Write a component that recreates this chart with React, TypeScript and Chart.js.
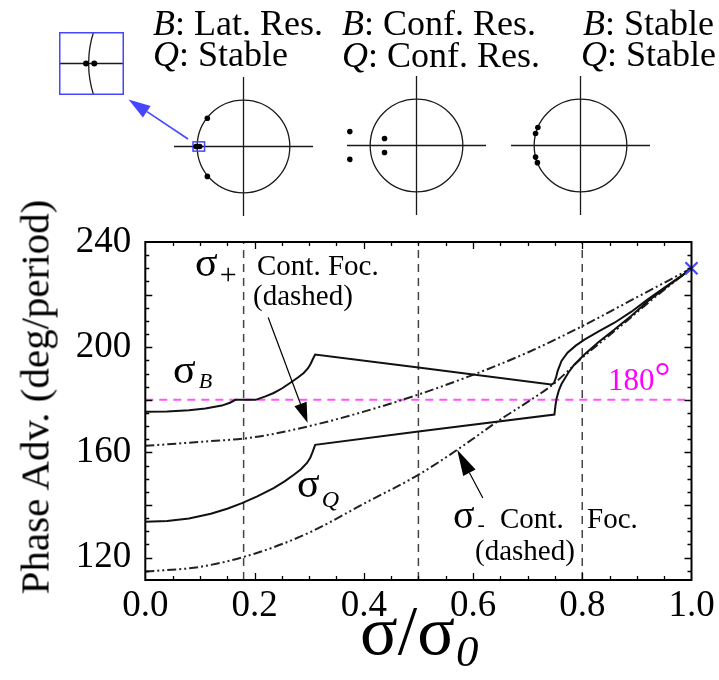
import React, { useEffect, useRef } from 'react';
import { Chart, registerables } from 'chart.js';
Chart.register(...registerables);

// ---------------- data ----------------
// normalized beam current sigma/sigma0 (x) and phase advance in deg/period (y)
const sigmaB_x = [0, 0.04, 0.08, 0.11, 0.14, 0.155, 0.165, 0.202, 0.22, 0.235, 0.25, 0.265, 0.28, 0.29, 0.298, 0.303, 0.307, 0.311, 0.5, 0.743, 0.748, 0.752, 0.755, 0.762, 0.773, 0.788, 0.804, 0.83, 0.859, 0.89, 0.92, 0.963, 1.0];
const sigmaB_y = [175.5, 175.6, 176.0, 176.7, 177.8, 178.9, 180.0, 180.0, 181.3, 182.6, 184.3, 186.4, 188.6, 190.2, 192.0, 193.8, 195.6, 197.2, 192.3, 185.8, 186.3, 188.5, 191.0, 194.8, 197.9, 200.6, 202.9, 206.0, 209.3, 213.5, 218.2, 224.5, 229.8];

const sigmaQ_x = [0, 0.04, 0.08, 0.12, 0.15, 0.177, 0.205, 0.235, 0.255, 0.272, 0.285, 0.296, 0.302, 0.306, 0.311, 0.5, 0.749, 0.751, 0.753, 0.757, 0.762, 0.767, 0.775, 0.785, 0.804, 0.83, 0.859, 0.89, 0.92, 0.963, 1.0];
const sigmaQ_y = [133.6, 133.9, 134.9, 136.7, 138.6, 140.7, 143.3, 146.4, 149.0, 151.5, 153.6, 156.0, 158.0, 160.0, 162.9, 168.0, 174.4, 178.0, 180.5, 183.5, 186.0, 187.7, 190.5, 193.3, 197.2, 202.0, 206.7, 212.0, 217.5, 224.2, 229.8];

const sigmaPlus_x = [0, 0.1, 0.2, 0.3, 0.4, 0.5, 0.6, 0.7, 0.8, 0.9, 1.0];
const sigmaPlus_y = [162.5, 164.0, 165.8, 170.0, 175.5, 182.0, 189.5, 198.0, 208.0, 219.0, 230.0];

const sigmaMinus_x = [0, 0.1, 0.2, 0.3, 0.4, 0.5, 0.571, 0.65, 0.706, 0.746, 0.8, 0.87, 0.93, 1.0];
const sigmaMinus_y = [114.7, 116.5, 121.5, 129.5, 140.5, 151.5, 161.0, 172.5, 180.0, 185.8, 196.0, 208.0, 218.5, 230.0];

const markerLinesX = [0.18, 0.5, 0.8];
const halfTurnY = 180;
const endPointX = [1.0];
const endPointY = [230];

const xTickValues = [0, 0.2, 0.4, 0.6, 0.8, 1.0];
const xTickLabels = ['0.0', '0.2', '0.4', '0.6', '0.8', '1.0'];
const yTickValues = [120, 160, 200, 240];
const yTickLabels = ['120', '160', '200', '240'];
const X_MIN = 0, X_MAX = 1, Y_MIN = 111.5, Y_MAX = 240;

// eigenvalues on the complex plane (Re, Im) for the three insets
const latResRe = [-0.78, -0.78, -1.025, -0.945];
const latResIm = [0.61, -0.645, 0, 0];
const confResRe = [-1.44, -1.44, -0.69, -0.69];
const confResIm = [0.3, -0.3, 0.15, -0.15];
const stableRe = [-0.92, -0.97, -0.97, -0.93];
const stableIm = [0.39, 0.26, -0.25, -0.37];

// annotation arrows (data coordinates: tail -> tip)
const arrowPlus = { x0: 0.225, y0: 211.3, x1: 0.297, y1: 171.3 };
const arrowMinus = { x0: 0.618, y0: 142.7, x1: 0.571, y1: 161.0 };

const zip = (xs: number[], ys: number[]) => xs.map((x, i) => ({ x, y: ys[i] }));

const SERIF = '"Liberation Serif", "Times New Roman", serif';
const BLUE = '#4646ff';
const MAGENTA = '#ff00ff';

// ---------------- helpers ----------------
function drawArrow(ctx: CanvasRenderingContext2D, x0: number, y0: number, x1: number, y1: number, hl: number, hw: number, color: string, lw: number) {
  const dx = x1 - x0, dy = y1 - y0;
  const len = Math.hypot(dx, dy);
  const ux = dx / len, uy = dy / len;
  const bx = x1 - ux * hl, by = y1 - uy * hl;
  ctx.save();
  ctx.strokeStyle = color;
  ctx.fillStyle = color;
  ctx.lineWidth = lw;
  ctx.setLineDash([]);
  ctx.beginPath();
  ctx.moveTo(x0, y0);
  ctx.lineTo(bx, by);
  ctx.stroke();
  ctx.beginPath();
  ctx.moveTo(x1, y1);
  ctx.lineTo(bx - uy * hw, by + ux * hw);
  ctx.lineTo(bx + uy * hw, by - ux * hw);
  ctx.closePath();
  ctx.fill();
  ctx.restore();
}

const framePlugin = {
  id: 'frameTicks',
  afterDatasetsDraw(chart: any) {
    const { ctx, chartArea: a, scales } = chart;
    const xs = scales.x, ys = scales.y;
    ctx.save();
    ctx.strokeStyle = '#000';
    ctx.lineWidth = 2;
    ctx.setLineDash([]);
    ctx.strokeRect(a.left, a.top, a.right - a.left, a.bottom - a.top);
    ctx.lineWidth = 1.3;
    ctx.beginPath();
    for (let i = 1; i < 20; i++) {
      const v = i * 0.05;
      const px = Math.round(xs.getPixelForValue(v)) + 0.5;
      const l = i % 4 === 0 ? 7 : 4;
      ctx.moveTo(px, a.bottom);
      ctx.lineTo(px, a.bottom - l);
      ctx.moveTo(px, a.top);
      ctx.lineTo(px, a.top + l);
    }
    for (let v = 115; v < Y_MAX; v += 5) {
      const py = Math.round(ys.getPixelForValue(v)) + 0.5;
      const l = v % 20 === 0 ? 7 : 4;
      ctx.moveTo(a.left, py);
      ctx.lineTo(a.left + l, py);
      ctx.moveTo(a.right, py);
      ctx.lineTo(a.right - l, py);
    }
    ctx.stroke();
    ctx.restore();
    const P = (p: any) => [xs.getPixelForValue(p.x0), ys.getPixelForValue(p.y0), xs.getPixelForValue(p.x1), ys.getPixelForValue(p.y1)];
    const a1 = P(arrowPlus);
    drawArrow(ctx, a1[0], a1[1], a1[2], a1[3], 20, 6.5, '#000', 1.2);
    const a2 = P(arrowMinus);
    drawArrow(ctx, a2[0], a2[1], a2[2], a2[3], 26, 7, '#000', 1.2);
  },
};

const circlePlugin = {
  id: 'unitCircle',
  beforeDatasetsDraw(chart: any, _args: any, opts: any) {
    const { ctx, chartArea: a, scales } = chart;
    const xs = scales.x, ys = scales.y;
    const cx = xs.getPixelForValue(0), cy = ys.getPixelForValue(0);
    const r = xs.getPixelForValue(1) - cx;
    ctx.save();
    ctx.beginPath();
    ctx.rect(a.left, a.top, a.right - a.left, a.bottom - a.top);
    ctx.clip();
    ctx.strokeStyle = '#1a1a1a';
    ctx.lineWidth = 1.3;
    ctx.beginPath();
    ctx.arc(cx, cy, r, 0, Math.PI * 2);
    ctx.stroke();
    ctx.beginPath();
    ctx.moveTo(a.left, cy);
    ctx.lineTo(a.right, cy);
    if (cx >= a.left && cx <= a.right) {
      ctx.moveTo(cx, a.top);
      ctx.lineTo(cx, a.bottom);
    }
    ctx.stroke();
    if (opts && opts.box) {
      const b = opts.box;
      ctx.strokeStyle = BLUE;
      ctx.lineWidth = 1.5;
      const x0 = xs.getPixelForValue(b.x0), x1 = xs.getPixelForValue(b.x1);
      const y0 = ys.getPixelForValue(b.y0), y1 = ys.getPixelForValue(b.y1);
      ctx.strokeRect(x0, y0, x1 - x0, y1 - y0);
    }
    if (opts && opts.frame) {
      ctx.strokeStyle = BLUE;
      ctx.lineWidth = 1.5;
      ctx.strokeRect(a.left + 0.75, a.top + 0.75, a.right - a.left - 1.5, a.bottom - a.top - 1.5);
    }
    ctx.restore();
  },
};

// ---------------- components ----------------
function MainChart() {
  const ref = useRef<HTMLCanvasElement>(null);
  useEffect(() => {
    const solid = (data: any) => ({ data, borderColor: '#111', borderWidth: 2, pointRadius: 0, tension: 0, fill: false });
    const dashDot = (data: any) => ({ data, borderColor: '#222', borderWidth: 2, pointRadius: 0, tension: 0.35, cubicInterpolationMode: 'monotone', borderDash: [9, 3, 2, 3, 2, 3], fill: false });
    const datasets: any[] = [
      {
        data: zip(endPointX, endPointY), showLine: false, pointStyle: 'crossRot', pointRadius: 8.5,
        pointBorderColor: BLUE, pointBorderWidth: 2.2, borderColor: BLUE, clip: false,
      },
      solid(zip(sigmaB_x, sigmaB_y)),
      solid(zip(sigmaQ_x, sigmaQ_y)),
      dashDot(zip(sigmaPlus_x, sigmaPlus_y)),
      dashDot(zip(sigmaMinus_x, sigmaMinus_y)),
      {
        data: [{ x: X_MIN, y: halfTurnY }, { x: X_MAX, y: halfTurnY }], borderColor: '#ff55ff', borderWidth: 2,
        borderDash: [8, 6], pointRadius: 0,
      },
      ...markerLinesX.map((mx) => ({
        data: [{ x: mx, y: Y_MIN }, { x: mx, y: Y_MAX }], borderColor: '#444', borderWidth: 1.5,
        borderDash: [8, 6], pointRadius: 0,
      })),
    ];
    const tickFont = { family: SERIF, size: 37 };
    const chart = new Chart(ref.current as HTMLCanvasElement, {
      type: 'line',
      data: { datasets },
      options: {
        animation: false,
        responsive: false,
        maintainAspectRatio: false,
        layout: { padding: { top: 42, right: 27.5, left: 0, bottom: 0 } },
        plugins: { legend: { display: false }, tooltip: { enabled: false } },
        scales: {
          x: {
            type: 'linear', min: X_MIN, max: X_MAX,
            afterBuildTicks: (s: any) => { s.ticks = xTickValues.map((v) => ({ value: v })); },
            afterFit: (s: any) => { s.height = 100; },
            ticks: { callback: (_v: any, i: number) => xTickLabels[i], font: tickFont, color: '#000', padding: 4, maxRotation: 0, minRotation: 0, autoSkip: false },
            grid: { display: false, drawTicks: false },
            border: { display: false },
          },
          y: {
            type: 'linear', min: Y_MIN, max: Y_MAX,
            afterBuildTicks: (s: any) => { s.ticks = yTickValues.map((v) => ({ value: v })); },
            afterFit: (s: any) => { s.width = 145.3; },
            ticks: { callback: (_v: any, i: number) => yTickLabels[i], font: tickFont, color: '#000', padding: 14, autoSkip: false },
            grid: { display: false, drawTicks: false },
            border: { display: false },
          },
        },
      } as any,
      plugins: [framePlugin],
    });
    return () => chart.destroy();
  }, []);
  return <canvas ref={ref} width={719} height={480} style={{ position: 'absolute', left: 0, top: 200 }} />;
}

function CircleInset(props: { left: number; top: number; w: number; h: number; re: number[]; im: number[]; xMin: number; xMax: number; yMin: number; yMax: number; box?: any; frame?: boolean; dot?: number }) {
  const ref = useRef<HTMLCanvasElement>(null);
  useEffect(() => {
    const chart = new Chart(ref.current as HTMLCanvasElement, {
      type: 'scatter',
      data: {
        datasets: [{ data: zip(props.re, props.im), pointRadius: props.dot || 2.8, pointBackgroundColor: '#000', pointBorderWidth: 0, showLine: false }],
      },
      options: {
        animation: false,
        responsive: false,
        maintainAspectRatio: false,
        layout: { padding: 0 },
        plugins: { legend: { display: false }, tooltip: { enabled: false }, unitCircle: { box: props.box, frame: props.frame } },
        scales: {
          x: { type: 'linear', display: false, min: props.xMin, max: props.xMax },
          y: { type: 'linear', display: false, min: props.yMin, max: props.yMax },
        },
      } as any,
      plugins: [circlePlugin],
    });
    return () => chart.destroy();
  }, []);
  return <canvas ref={ref} width={props.w} height={props.h} style={{ position: 'absolute', left: props.left, top: props.top }} />;
}

function T(props: { x: number; base: number; size: number; color?: string; children: any; italic?: boolean }) {
  return (
    <div
      style={{
        position: 'absolute', left: props.x, top: props.base - 0.8375 * props.size, fontSize: props.size, lineHeight: 1,
        fontFamily: SERIF, color: props.color || '#000', whiteSpace: 'nowrap', fontStyle: props.italic ? 'italic' : 'normal',
      }}
    >
      {props.children}
    </div>
  );
}

function S(props: { size: number; dy: number; dx?: number; italic?: boolean; children: any }) {
  return (
    <span style={{ fontSize: props.size, lineHeight: 0, position: 'relative', top: props.dy, marginLeft: props.dx || 0, fontStyle: props.italic ? 'italic' : 'normal' }}>
      {props.children}
    </span>
  );
}

export default function App() {
  return (
    <div style={{ position: 'absolute', left: 0, top: 0, width: 719, height: 680, overflow: 'hidden', background: '#fff', fontFamily: SERIF }}>
      {/* inset phase-space circles */}
      <CircleInset left={169.8} top={73.2} w={147} h={147} re={latResRe} im={latResIm} xMin={-1.5} xMax={1.5} yMin={-1.5} yMax={1.5} box={{ x0: -1.09, x1: -0.84, y0: 0.1, y1: -0.1 }} />
      <CircleInset left={343.2} top={71.5} w={147} h={147} re={confResRe} im={confResIm} xMin={-1.5} xMax={1.5} yMin={-1.5} yMax={1.5} />
      <CircleInset left={507.2} top={71.5} w={147} h={147} re={stableRe} im={stableIm} xMin={-1.5} xMax={1.5} yMin={-1.5} yMax={1.5} />
      <CircleInset left={55} top={28} w={73} h={71} re={latResRe} im={latResIm} xMin={-1.289} xMax={-0.655} yMin={-0.309} yMax={0.309} frame dot={3} />
      <svg width={719} height={240} style={{ position: 'absolute', left: 0, top: 0 }}>
        <line x1={188} y1={139} x2={147} y2={111.7} stroke={BLUE} strokeWidth={1.6} />
        <polygon points="128.5,99.5 150.7,105.9 142.9,117.5" fill={BLUE} />
      </svg>

      <T x={153} base={35} size={36}><i>B</i>: Lat. Res.</T>
      <T x={153} base={66} size={36}><i>Q</i>: Stable</T>
      <T x={342} base={35} size={36}><i>B</i>: Conf. Res.</T>
      <T x={342} base={67} size={36}><i>Q</i>: Conf. Res.</T>
      <T x={583} base={35} size={36}><i>B</i>: Stable</T>
      <T x={581} base={66} size={36}><i>Q</i>: Stable</T>

      <MainChart />

      {/* axis titles */}
      <div
        style={{
          position: 'absolute', left: 35, top: 397, transform: 'translate(-50%, -50%) rotate(-90deg)', fontSize: 41,
          lineHeight: 1, fontFamily: SERIF, whiteSpace: 'nowrap', color: '#000',
        }}
      >
        Phase Adv. (deg/period)
      </div>
      <T x={360} base={655} size={70}>σ/σ<S size={45} dy={12} dx={1} italic>0</S></T>

      {/* annotations */}
      <T x={195} base={276} size={42}>σ<S size={30} dy={8} dx={2}>+</S></T>
      <T x={257} base={275} size={29}>Cont. Foc.</T>
      <T x={253} base={305} size={29}>(dashed)</T>
      <T x={173} base={383} size={42}>σ<S size={22} dy={5} dx={3} italic>B</S></T>
      <T x={297} base={497} size={42}>σ<S size={24} dy={10} dx={2} italic>Q</S></T>
      <T x={453} base={528} size={40}>σ<S size={22} dy={3} dx={3}>-</S></T>
      <T x={500} base={528} size={29}>Cont.</T>
      <T x={587} base={528} size={29}>Foc.</T>
      <T x={475} base={560} size={29}>(dashed)</T>
      <T x={608} base={390} size={31} color={MAGENTA}>180<S size={40} dy={0}>°</S></T>
    </div>
  );
}
